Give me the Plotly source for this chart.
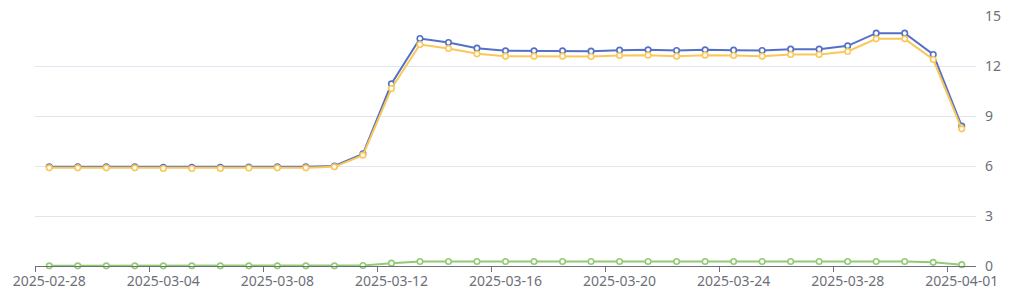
import plotly.graph_objects as go
import pandas as pd

dates = [d.strftime("%Y-%m-%d") for d in pd.date_range("2025-02-28", "2025-04-01", freq="D")]

series_blue = [5.95, 5.95, 5.95, 5.95, 5.92, 5.92, 5.92, 5.94, 5.95, 5.95, 6.0,
               6.73, 10.93, 13.65, 13.41, 13.07, 12.91, 12.91, 12.91, 12.89, 12.95,
               12.97, 12.93, 12.97, 12.95, 12.93, 13.01, 13.01, 13.21, 13.97, 13.97,
               12.69, 8.39]
series_yellow = [5.89, 5.89, 5.89, 5.89, 5.85, 5.85, 5.85, 5.88, 5.89, 5.89, 5.95,
                 6.65, 10.65, 13.29, 13.05, 12.73, 12.59, 12.59, 12.59, 12.57, 12.63,
                 12.65, 12.59, 12.65, 12.63, 12.59, 12.69, 12.69, 12.87, 13.63, 13.63,
                 12.39, 8.23]
series_green = [0.01] * 11 + [0.03, 0.17] + [0.27] * 18 + [0.22, 0.08]

y_ticks = [0, 3, 6, 9, 12, 15]

colors = ["#5470c6", "#fac858", "#91cc75"]
FONT = "Noto Sans"

fig = go.Figure()
for vals, col, name in [(series_blue, colors[0], "A"), (series_yellow, colors[1], "B"), (series_green, colors[2], "C")]:
    fig.add_trace(go.Scatter(
        x=dates, y=vals, mode="lines+markers", name=name,
        line=dict(color=col, width=2),
        marker=dict(size=5.5, color="#ffffff", line=dict(color=col, width=1.6)),
        cliponaxis=False,
    ))

fig.update_layout(
    width=1024, height=293,
    margin=dict(l=35, r=48, t=16, b=27, autoexpand=False),
    paper_bgcolor="#ffffff", plot_bgcolor="#ffffff",
    showlegend=False,
    font=dict(family=FONT, size=14, color="#6E7079"),
)
fig.update_xaxes(
    type="category", range=[-0.5, len(dates) - 0.5],
    tickmode="linear", tick0=0, dtick=4, tickson="boundaries",
    ticks="outside", ticklen=5, tickcolor="#6E7079", tickwidth=1,
    showline=True, linecolor="#6E7079", linewidth=1,
    showgrid=False, zeroline=False, tickangle=0, automargin=False,
    ticklabelstandoff=2,
    tickfont=dict(family=FONT, size=14, color="#6E7079"),
)
fig.update_yaxes(
    side="right", range=[0, 15], tickmode="array", tickvals=y_ticks,
    showgrid=True, gridcolor="#E0E6F1", gridwidth=1, automargin=False,
    zeroline=False, showline=False, ticks="", ticklabelstandoff=8,
    tickfont=dict(family=FONT, size=14, color="#6E7079"),
)

fig.write_html("out.html")
